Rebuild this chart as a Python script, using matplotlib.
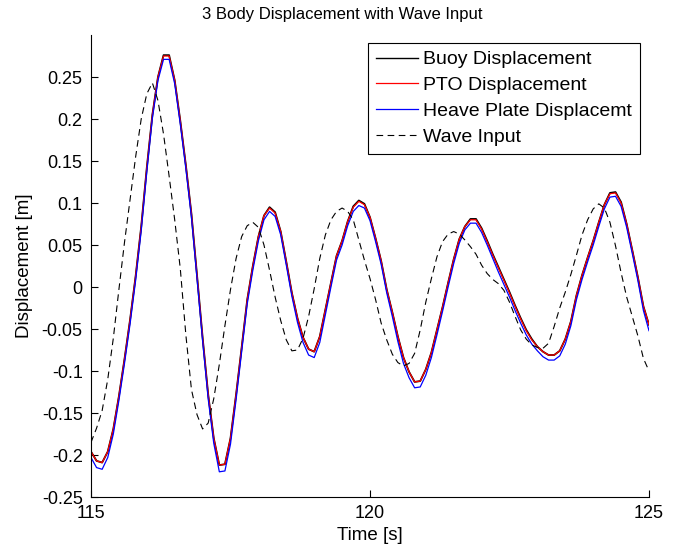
#!/usr/bin/env python3
"""
plot.py
───────
3 body displacement (buoy / PTO / heave plate) against the wave input,
MATLAB-style figure, saved to out.png.
"""

import numpy as np
import matplotlib
matplotlib.use("Agg")
import matplotlib.pyplot as plt
import matplotlib.ticker as mticker


# ─── Data (0.1 s spacing) ─────────────────────────────────────────────────────

time = np.linspace(115.0, 125.0, 101)

pto_disp = [
    -0.196, -0.207, -0.209, -0.196, -0.169, -0.130, -0.086, -0.039, 0.013, 0.072,
    0.142, 0.205, 0.250, 0.275, 0.275, 0.246, 0.198, 0.145, 0.087, 0.014,
    -0.060, -0.128, -0.180, -0.212, -0.211, -0.180, -0.128, -0.072, -0.015, 0.025,
    0.060, 0.085, 0.094, 0.088, 0.066, 0.030, -0.007, -0.037, -0.060, -0.074,
    -0.077, -0.059, -0.027, 0.005, 0.037, 0.055, 0.078, 0.095, 0.102, 0.098,
    0.083, 0.058, 0.031, -0.003, -0.030, -0.059, -0.084, -0.101, -0.113, -0.112,
    -0.098, -0.078, -0.051, -0.024, 0.005, 0.033, 0.057, 0.072, 0.080, 0.080,
    0.069, 0.054, 0.038, 0.023, 0.008, -0.007, -0.023, -0.038, -0.052, -0.063,
    -0.071, -0.077, -0.081, -0.081, -0.076, -0.062, -0.041, -0.010, 0.014, 0.035,
    0.055, 0.077, 0.098, 0.111, 0.112, 0.100, 0.075, 0.044, 0.012, -0.023,
    -0.045,
]

buoy_disp = [
    -0.196, -0.207, -0.209, -0.196, -0.169, -0.130, -0.086, -0.039, 0.013, 0.072,
    0.142, 0.205, 0.250, 0.276, 0.276, 0.246, 0.198, 0.145, 0.087, 0.014,
    -0.060, -0.128, -0.180, -0.212, -0.211, -0.180, -0.128, -0.072, -0.015, 0.025,
    0.060, 0.085, 0.095, 0.089, 0.066, 0.030, -0.007, -0.037, -0.060, -0.074,
    -0.077, -0.059, -0.027, 0.005, 0.037, 0.055, 0.078, 0.096, 0.103, 0.099,
    0.083, 0.058, 0.031, -0.003, -0.030, -0.059, -0.084, -0.101, -0.113, -0.112,
    -0.098, -0.078, -0.051, -0.024, 0.005, 0.033, 0.057, 0.072, 0.081, 0.081,
    0.070, 0.055, 0.039, 0.024, 0.009, -0.006, -0.022, -0.037, -0.051, -0.062,
    -0.071, -0.077, -0.081, -0.081, -0.076, -0.062, -0.041, -0.010, 0.014, 0.035,
    0.055, 0.077, 0.098, 0.112, 0.113, 0.101, 0.075, 0.044, 0.012, -0.023,
    -0.045,
]

heave_disp = [
    -0.203, -0.215, -0.217, -0.203, -0.175, -0.135, -0.091, -0.044, 0.008, 0.067,
    0.137, 0.201, 0.246, 0.271, 0.271, 0.242, 0.194, 0.141, 0.083, 0.010,
    -0.064, -0.133, -0.186, -0.220, -0.219, -0.187, -0.134, -0.077, -0.020, 0.020,
    0.055, 0.080, 0.090, 0.084, 0.062, 0.026, -0.011, -0.042, -0.066, -0.081,
    -0.084, -0.066, -0.033, 0.000, 0.032, 0.050, 0.073, 0.090, 0.097, 0.094,
    0.079, 0.054, 0.027, -0.007, -0.035, -0.065, -0.091, -0.108, -0.120, -0.119,
    -0.105, -0.084, -0.057, -0.029, 0.000, 0.028, 0.052, 0.068, 0.076, 0.076,
    0.065, 0.050, 0.034, 0.018, 0.003, -0.012, -0.028, -0.043, -0.057, -0.068,
    -0.076, -0.083, -0.087, -0.087, -0.082, -0.068, -0.046, -0.015, 0.009, 0.030,
    0.050, 0.072, 0.093, 0.107, 0.108, 0.096, 0.071, 0.040, 0.008, -0.028,
    -0.052,
]

wave_input = [
    -0.185, -0.168, -0.147, -0.110, -0.061, -0.003, 0.053, 0.104, 0.155, 0.200,
    0.230, 0.243, 0.222, 0.182, 0.132, 0.080, 0.022, -0.057, -0.122, -0.152,
    -0.169, -0.162, -0.133, -0.092, -0.046, -0.003, 0.034, 0.060, 0.073, 0.077,
    0.071, 0.050, 0.020, -0.012, -0.040, -0.063, -0.076, -0.075, -0.061, -0.035,
    -0.002, 0.034, 0.062, 0.080, 0.090, 0.094, 0.090, 0.080, 0.056, 0.032,
    0.010, -0.015, -0.043, -0.063, -0.080, -0.090, -0.094, -0.091, -0.079, -0.051,
    -0.018, 0.010, 0.036, 0.054, 0.063, 0.066, 0.063, 0.056, 0.048, 0.039,
    0.026, 0.016, 0.009, 0.004, -0.004, -0.018, -0.035, -0.051, -0.062, -0.069,
    -0.072, -0.073, -0.067, -0.047, -0.025, -0.006, 0.015, 0.038, 0.062, 0.080,
    0.093, 0.099, 0.094, 0.077, 0.049, 0.017, -0.012, -0.035, -0.058, -0.085,
    -0.100,
]

labels = ["Buoy Displacement", "PTO Displacement",
          "Heave Plate Displacemt", "Wave Input"]

x_ticks = [115, 120, 125]
y_ticks = [-0.25, -0.2, -0.15, -0.1, -0.05, 0, 0.05, 0.1, 0.15, 0.2, 0.25]


# ─── Figure ───────────────────────────────────────────────────────────────────

plt.rcParams["font.family"] = ["Liberation Sans", "DejaVu Sans"]
plt.rcParams["axes.unicode_minus"] = False
plt.rcParams["lines.solid_joinstyle"] = "round"

W, H = 681, 552
fig = plt.figure(figsize=(W / 100, H / 100), dpi=100)
ax = fig.add_axes([91 / W, 1 - 497 / H, (649 - 91) / W, 462 / H])

ax.plot(time, buoy_disp, color="black", lw=1.3, label=labels[0])
ax.plot(time, pto_disp, color="#ff0000", lw=0.9, label=labels[1])
ax.plot(time, heave_disp, color="#0000ff", lw=0.9, label=labels[2])
ax.plot(time, wave_input, color="black", lw=0.8, ls=(0, (6, 4)),
        label=labels[3])

ax.set_xlim(115, 125)
ax.set_ylim(-0.25, 0.3)
ax.set_xticks(x_ticks)
ax.set_yticks(y_ticks)
ax.yaxis.set_major_formatter(mticker.FormatStrFormatter("%g"))
ax.tick_params(direction="in", length=5, width=0.8, labelsize=13, pad=6)

ax.spines[["top", "right"]].set_visible(False)
for side in ("left", "bottom"):
    ax.spines[side].set_linewidth(0.8)

ax.set_xlabel("Time [s]", fontsize=13.5, labelpad=3)
ax.set_ylabel("Displacement [m]", fontsize=13.5, labelpad=6)
fig.text(342 / W, 1 - 14 / H, "3 Body Displacement with Wave Input",
         ha="center", va="center", fontsize=12)

leg = ax.legend(loc="upper right", bbox_to_anchor=(640 / W, 1 - 43 / H),
                bbox_transform=fig.transFigure, borderaxespad=0,
                fontsize=14, handlelength=2.2, handletextpad=0.25,
                labelspacing=0.42, borderpad=0.4, fancybox=False,
                framealpha=1, edgecolor="black")
leg.get_frame().set_linewidth(0.8)
for line in leg.get_lines()[:1]:
    line.set_linewidth(1.0)

fig.savefig("out.png", dpi=100)
